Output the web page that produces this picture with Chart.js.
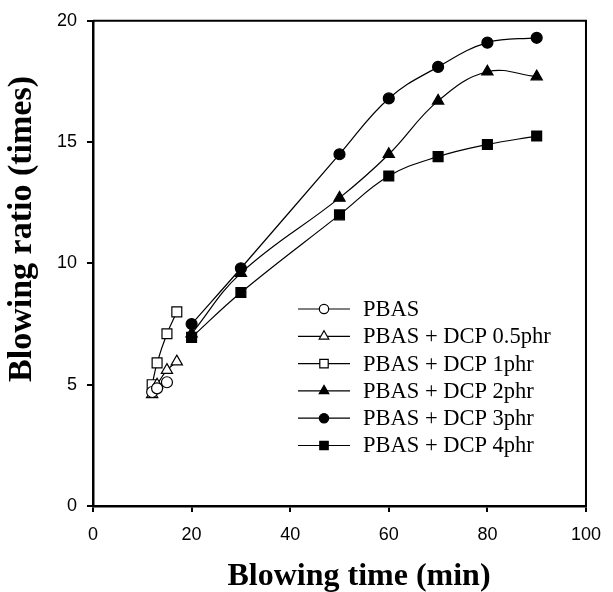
<!DOCTYPE html>
<html>
<head>
<meta charset="utf-8">
<script src="https://cdn.jsdelivr.net/npm/chart.js@4.4.1/dist/chart.umd.min.js"></script>
<style>
  html, body { margin: 0; padding: 0; background: #fff; }
  #wrap { position: relative; width: 613px; height: 592px; }
</style>
</head>
<body>
<div id="wrap"><canvas id="c" width="613" height="592"></canvas></div>
<script>
// ---- Data ----
const seriesLabels = ['PBAS', 'PBAS + DCP 0.5phr', 'PBAS + DCP 1phr', 'PBAS + DCP 2phr', 'PBAS + DCP 3phr', 'PBAS + DCP 4phr'];

const timePBAS   = [12, 13, 15];
const ratioPBAS  = [4.7, 4.85, 5.1];

const timeDCP05  = [12, 13, 15, 17];
const ratioDCP05 = [4.6, 5.0, 5.6, 5.95];

const timeDCP1   = [12, 13, 15, 17];
const ratioDCP1  = [5.0, 5.9, 7.1, 8.0];

const timeLate   = [20, 30, 50, 60, 70, 80, 90];
const ratioDCP2  = [7.1, 9.6, 12.7, 14.5, 16.7, 17.9, 17.7];
const ratioDCP3  = [7.5, 9.8, 14.5, 16.8, 18.1, 19.1, 19.3];
const ratioDCP4  = [6.95, 8.8, 12.0, 13.6, 14.4, 14.9, 15.25];

const xTicks = [0, 20, 40, 60, 80, 100];
const yTicks = [0, 5, 10, 15, 20];

const xTitle = 'Blowing time (min)';
const yTitle = 'Blowing ratio (times)';

// ---- Build ----
const pts = (xs, ys) => xs.map((x, i) => ({ x: x, y: ys[i] }));

const styles = [
  { pointStyle: 'circle',   fill: '#ffffff', radius: 5.5 },
  { pointStyle: 'triangle', fill: '#ffffff', radius: 6.5 },
  { pointStyle: 'rect',     fill: '#ffffff', radius: 7 },
  { pointStyle: 'triangle', fill: '#000000', radius: 6.5 },
  { pointStyle: 'circle',   fill: '#000000', radius: 5.5 },
  { pointStyle: 'rect',     fill: '#000000', radius: 7 }
];
const seriesData = [
  pts(timePBAS, ratioPBAS),
  pts(timeDCP05, ratioDCP05),
  pts(timeDCP1, ratioDCP1),
  pts(timeLate, ratioDCP2),
  pts(timeLate, ratioDCP3),
  pts(timeLate, ratioDCP4)
];

const datasets = seriesData.map((d, i) => ({
  label: seriesLabels[i],
  data: d,
  borderColor: '#000',
  borderWidth: 1.2,
  tension: 0.4,
  pointStyle: styles[i].pointStyle,
  pointRadius: styles[i].radius,
  pointHoverRadius: styles[i].radius,
  pointBackgroundColor: styles[i].fill,
  pointBorderColor: '#000',
  pointBorderWidth: 1.2,
  fill: false
}));

const TITLE_FONT = '"Liberation Serif", "Times New Roman", serif';

const boxPlugin = {
  id: 'box',
  afterDraw(chart) {
    const { ctx, chartArea: a } = chart;
    ctx.save();
    ctx.strokeStyle = '#000';
    ctx.lineWidth = 2;
    ctx.beginPath();
    ctx.moveTo(a.left, a.top);
    ctx.lineTo(a.right, a.top);
    ctx.lineTo(a.right, a.bottom);
    ctx.stroke();
    ctx.restore();
  }
};

const titlesPlugin = {
  id: 'axisTitles',
  afterDraw(chart) {
    const ctx = chart.ctx;
    ctx.save();
    ctx.fillStyle = '#000';
    ctx.textAlign = 'center';
    ctx.textBaseline = 'middle';
    ctx.font = 'bold 32px ' + TITLE_FONT;
    ctx.fillText(xTitle, 359, 577);
    ctx.translate(22, 229);
    ctx.rotate(-Math.PI / 2);
    ctx.font = 'bold 34px ' + TITLE_FONT;
    ctx.fillText(yTitle, 0, 0);
    ctx.restore();
  }
};

const legendPlugin = {
  id: 'innerLegend',
  afterDraw(chart) {
    const ctx = chart.ctx;
    const x0 = 298, x1 = 350, xm = 324, xt = 363;
    const y0 = 309, dy = 27.3;
    ctx.save();
    chart.data.datasets.forEach((ds, i) => {
      const y = y0 + i * dy;
      ctx.strokeStyle = '#000';
      ctx.lineWidth = 1.2;
      ctx.beginPath();
      ctx.moveTo(x0, y);
      ctx.lineTo(x1, y);
      ctx.stroke();
      ctx.fillStyle = ds.pointBackgroundColor;
      ctx.strokeStyle = '#000';
      ctx.lineWidth = 1.2;
      Chart.helpers.drawPoint(ctx, {
        pointStyle: ds.pointStyle,
        radius: ds.pointRadius * 0.85,
        rotation: 0,
        borderWidth: 1.2
      }, xm, y);
      ctx.fillStyle = '#000';
      ctx.font = '22.5px ' + TITLE_FONT;
      ctx.textBaseline = 'middle';
      ctx.textAlign = 'left';
      ctx.fillText(ds.label, xt, y + 1);
    });
    ctx.restore();
  }
};

new Chart(document.getElementById('c'), {
  type: 'line',
  data: { datasets: datasets },
  plugins: [boxPlugin, titlesPlugin, legendPlugin],
  options: {
    responsive: false,
    animation: false,
    events: [],
    layout: { padding: { left: 0, right: 27, top: 13, bottom: 0 } },
    plugins: { legend: { display: false }, tooltip: { enabled: false } },
    scales: {
      x: {
        type: 'linear',
        min: 0, max: 100,
        afterBuildTicks(scale) { scale.ticks = xTicks.map(v => ({ value: v })); },
        afterFit(scale) { scale.height = 86; },
        border: { display: true, color: '#000', width: 2.5 },
        grid: { display: true, drawOnChartArea: false, drawTicks: true, tickLength: 6, color: '#000', lineWidth: 2 },
        ticks: {
          color: '#000', padding: 12, maxRotation: 0,
          font: { family: '"Liberation Sans", Arial, sans-serif', size: 18 }
        },
        title: { display: false, text: xTitle }
      },
      y: {
        type: 'linear',
        min: 0, max: 20,
        afterBuildTicks(scale) { scale.ticks = yTicks.map(v => ({ value: v })); },
        afterFit(scale) { scale.width = 93; },
        border: { display: true, color: '#000', width: 2.5 },
        grid: { display: true, drawOnChartArea: false, drawTicks: true, tickLength: 6, color: '#000', lineWidth: 2 },
        ticks: {
          color: '#000', padding: 10,
          font: { family: '"Liberation Sans", Arial, sans-serif', size: 18 }
        },
        title: { display: false, text: yTitle }
      }
    }
  }
});
</script>
</body>
</html>
